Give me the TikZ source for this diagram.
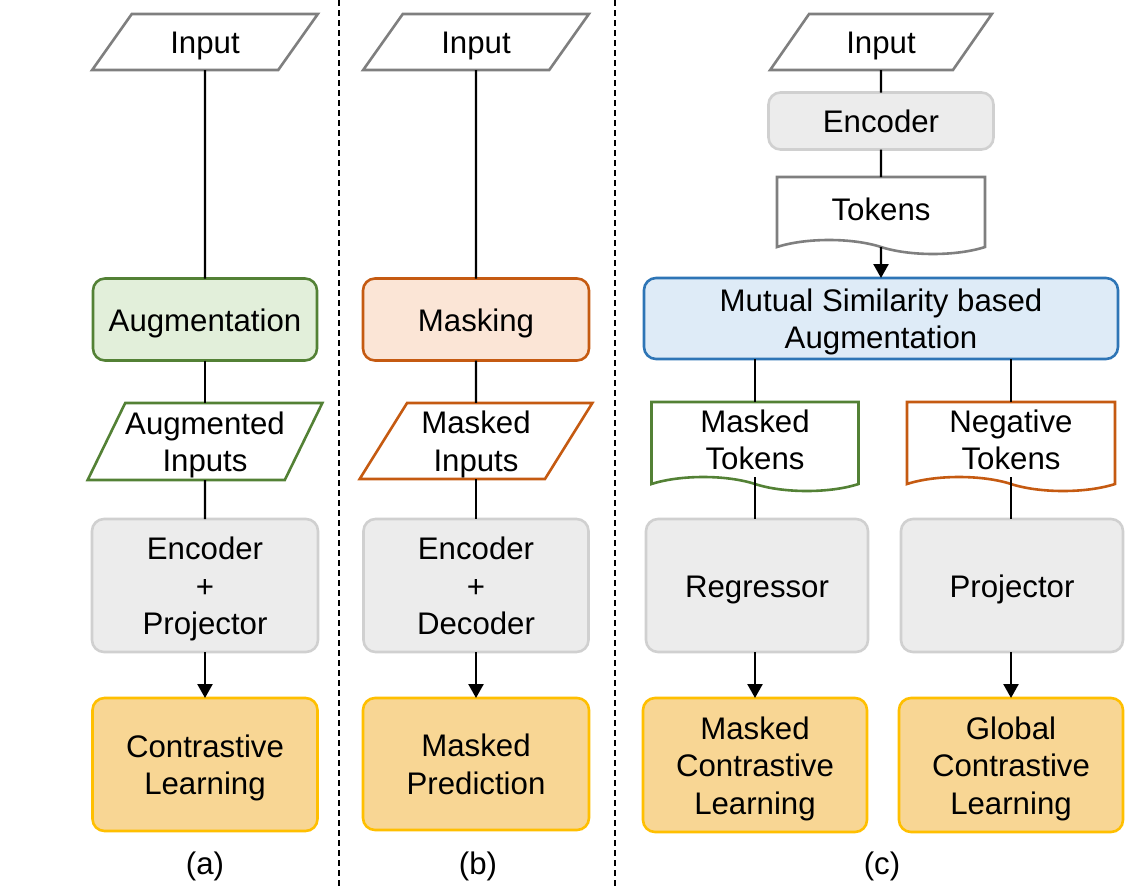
\documentclass[tikz,border=0pt]{standalone}
\usepackage{fontspec}
\setmainfont{Liberation Sans}
\usetikzlibrary{shapes.geometric,shapes.symbols,arrows.meta}
\definecolor{gfill}{HTML}{ECECEC}
\definecolor{gline}{HTML}{D0D0D0}
\definecolor{dline}{HTML}{7F7F7F}
\definecolor{grfill}{HTML}{E2EFDA}
\definecolor{grline}{HTML}{538135}
\definecolor{orfill}{HTML}{FBE5D6}
\definecolor{orline}{HTML}{C55A11}
\definecolor{blfill}{HTML}{DEEBF7}
\definecolor{blline}{HTML}{2E75B6}
\definecolor{yefill}{HTML}{F8D694}
\definecolor{yeline}{HTML}{FFBF00}
\newcommand{\ntext}[1]{\raisebox{-4pt}[\height][\depth]{\renewcommand{\arraystretch}{1}\begin{tabular}{@{}c@{}}#1\end{tabular}}}
\begin{document}
\begin{tikzpicture}[x=1pt,y=-1pt,
  every node/.style={font=\fontsize{31.2}{37.5}\selectfont, inner sep=0pt, outer sep=0pt},
  box/.style={rectangle, rounded corners=12pt, line width=2.6pt},
  graybox/.style={box, fill=gfill, draw=gline},
  greenbox/.style={box, fill=grfill, draw=grline},
  orangebox/.style={box, fill=orfill, draw=orline},
  bluebox/.style={box, fill=blfill, draw=blline},
  yellowbox/.style={box, fill=yefill, draw=yeline},
  para/.style={trapezium, trapezium left angle=63.4, trapezium right angle=116.6,
    trapezium stretches=true, line width=2.6pt, fill=white},
  docu/.style={tape, tape bend top=none, tape bend bottom=out and in, tape bend height=14pt,
    line width=2.6pt, fill=white},
  conn/.style={line width=2.4pt, draw=black},
  arr/.style={conn, -{Triangle[length=14pt,width=15pt]}},
  sep/.style={line width=2pt, dash pattern=on 6pt off 4pt}
]
\useasboundingbox (0,0) rectangle (1142,886);

% separators
\coordinate (s1t) at (338.5,0);
\coordinate (s1b) at (338.5,886);
\coordinate (s2t) at (614.5,0);
\coordinate (s2b) at (614.5,886);
\draw[sep] (s1t) -- (s1b);
\draw[sep] (s2t) -- (s2b);

% panel (a)
\node[para, draw=dline, minimum width=226pt, minimum height=56pt] (inA) at (205,42) {\ntext{Input}};
\node[greenbox, minimum width=224pt, minimum height=82pt] (augA) at (205,319.5) {\ntext{Augmentation}};
\node[para, draw=grline, minimum width=232pt, minimum height=77pt] (aiA) at (205,441.5) {\ntext{Augmented\\Inputs}};
\node[graybox, minimum width=226pt, minimum height=133pt] (encA) at (205,585.5) {\ntext{Encoder\\+\\Projector}};
\node[yellowbox, minimum width=225pt, minimum height=133pt] (clA) at (205,764.5) {\ntext{Contrastive\\Learning}};
\node (labA) at (205,863) {\ntext{(a)}};
\draw[conn] (inA) -- (augA);
\draw[conn] (augA) -- (aiA);
\draw[conn] (aiA) -- (encA);
\draw[arr] (encA) -- (clA);

% panel (b)
\node[para, draw=dline, minimum width=226pt, minimum height=56pt] (inB) at (476,42) {\ntext{Input}};
\node[orangebox, minimum width=226pt, minimum height=82pt] (mask) at (476,319.5) {\ntext{Masking}};
\node[para, draw=orline, minimum width=233pt, minimum height=76pt] (miB) at (476,441) {\ntext{Masked\\Inputs}};
\node[graybox, minimum width=225pt, minimum height=133pt] (encB) at (476,585.5) {\ntext{Encoder\\+\\Decoder}};
\node[yellowbox, minimum width=226pt, minimum height=132pt] (mp) at (476,764) {\ntext{Masked\\Prediction}};
\node (labB) at (478,863) {\ntext{(b)}};
\draw[conn] (inB) -- (mask);
\draw[conn] (mask) -- (miB);
\draw[conn] (miB) -- (encB);
\draw[arr] (encB) -- (mp);

% panel (c)
\node[para, draw=dline, minimum width=222pt, minimum height=56pt] (inC) at (881,42) {\ntext{Input}};
\node[graybox, minimum width=225pt, minimum height=57pt] (encC) at (881,121) {\ntext{Encoder}};
\node[docu, draw=dline, minimum width=208pt, minimum height=77pt] (tok) at (881,208.5) {\ntext{Tokens}};
\node[bluebox, minimum width=474pt, minimum height=81pt] (msa) at (881,318.5) {\ntext{Mutual Similarity based\\Augmentation}};
\node[docu, draw=grline, minimum width=207pt, minimum height=89pt] (mt) at (755,439.5) {\ntext{Masked\\Tokens}};
\node[docu, draw=orline, minimum width=208pt, minimum height=89pt] (nt) at (1011,439.5) {\ntext{Negative\\Tokens}};
\node[graybox, minimum width=222pt, minimum height=133pt] (reg) at (757,585.5) {\ntext{Regressor}};
\node[graybox, minimum width=222pt, minimum height=133pt] (proj) at (1012,585.5) {\ntext{Projector}};
\node[yellowbox, minimum width=224pt, minimum height=134pt] (mcl) at (755,765) {\ntext{Masked\\Contrastive\\Learning}};
\node[yellowbox, minimum width=224pt, minimum height=134pt] (gcl) at (1011,765) {\ntext{Global\\Contrastive\\Learning}};
\node (labC) at (882,863) {\ntext{(c)}};
\draw[conn] (inC) -- (encC);
\draw[conn] (encC) -- (tok);
\draw[arr] (tok) -- (msa);
\draw[conn] (mt.north |- msa.south) -- (mt.north);
\draw[conn] (nt.north |- msa.south) -- (nt.north);
\draw[conn] (mt.south) -- (mt.south |- reg.north);
\draw[conn] (nt.south) -- (nt.south |- proj.north);
\draw[arr] (reg.south -| mcl.north) -- (mcl.north);
\draw[arr] (proj.south -| gcl.north) -- (gcl.north);
\end{tikzpicture}
\end{document}
